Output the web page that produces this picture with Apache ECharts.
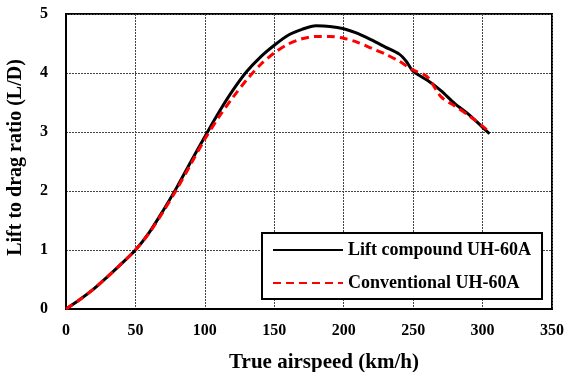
<!DOCTYPE html>
<html>
<head>
<meta charset="utf-8">
<script src="https://cdn.jsdelivr.net/npm/echarts@6/dist/echarts.min.js"></script>
<style>
  html, body { margin: 0; padding: 0; background: #fff; }
  #chart { width: 567px; height: 372px; }
</style>
</head>
<body>
<div id="chart"></div>
<script>
// true airspeed (km/h) and L/D
const compoundSpeed = [0, 10, 20, 30, 40, 50, 60, 70, 80, 90, 100, 110, 120, 130, 140, 150, 160, 170, 180, 190, 200, 210, 220, 230, 240, 245, 250, 260, 270, 280, 290, 300, 305]
const compoundLD = [0, 0.16, 0.34, 0.55, 0.77, 1.0, 1.3, 1.67, 2.07, 2.5, 2.92, 3.33, 3.7, 4.02, 4.27, 4.47, 4.64, 4.74, 4.8, 4.79, 4.75, 4.67, 4.56, 4.44, 4.32, 4.2, 4.03, 3.88, 3.7, 3.48, 3.3, 3.08, 2.97]

const conventionalSpeed = [0, 10, 20, 30, 40, 50, 60, 70, 80, 90, 100, 110, 120, 130, 140, 150, 160, 170, 180, 190, 200, 210, 220, 230, 240, 250, 260, 270, 280, 290, 300, 305]
const conventionalLD = [0, 0.16, 0.34, 0.55, 0.77, 1.0, 1.29, 1.65, 2.04, 2.46, 2.88, 3.25, 3.58, 3.88, 4.14, 4.34, 4.49, 4.58, 4.62, 4.62, 4.59, 4.52, 4.42, 4.32, 4.2, 4.05, 3.94, 3.6, 3.44, 3.28, 3.1, 3.0]

const seriesNames = ["Lift compound UH-60A", "Conventional UH-60A"]

const chart = echarts.init(document.getElementById("chart"))

const serif = "Liberation Serif"

chart.setOption({
  animation: false,
  grid: {
    left: 66,
    right: 15,
    top: 14,
    bottom: 63,
    outerBoundsMode: "none",
    show: true,
    borderColor: "#000",
    borderWidth: 2,
  },
  legend: {
    orient: "vertical",
    left: 262,
    top: 233,
    backgroundColor: "#fff",
    borderColor: "#000",
    borderWidth: 2,
    borderRadius: 0,
    padding: [8, 11, 7, 10],
    itemGap: 15,
    itemWidth: 70,
    itemHeight: 16,
    itemStyle: { opacity: 0 },
    textStyle: {
      fontFamily: serif,
      fontWeight: "bold",
      fontSize: 18,
      color: "#000",
    },
    data: seriesNames,
  },
  xAxis: {
    type: "value",
    min: 0,
    max: 350,
    interval: 50,
    name: "True airspeed (km/h)",
    nameLocation: "middle",
    nameGap: 43,
    nameTextStyle: { fontFamily: serif, fontWeight: "bold", fontSize: 21, color: "#000", padding: [0, 0, 0, 30] },
    axisLine: { show: true, lineStyle: { color: "#000", width: 2 } },
    axisTick: { show: false },
    axisLabel: { fontFamily: serif, fontWeight: "bold", fontSize: 16, color: "#000", margin: 14 },
    splitLine: { show: true, lineStyle: { color: "#444", type: [2, 1], width: 1 } },
  },
  yAxis: {
    type: "value",
    min: 0,
    max: 5,
    interval: 1,
    name: "Lift to drag ratio (L/D)",
    nameLocation: "middle",
    nameGap: 40,
    nameTextStyle: { fontFamily: serif, fontWeight: "bold", fontSize: 20, color: "#000", padding: [0, 0, 0, 8] },
    axisLine: { show: true, lineStyle: { color: "#000", width: 2 } },
    axisTick: { show: false },
    axisLabel: { fontFamily: serif, fontWeight: "bold", fontSize: 16, color: "#000", margin: 18 },
    splitLine: { show: true, lineStyle: { color: "#444", type: [2, 1], width: 1 } },
  },
  series: [
    {
      name: seriesNames[0],
      type: "line",
      data: compoundSpeed.map((s, i) => [s, compoundLD[i]]),
      showSymbol: false,
      symbol: "none",
      smooth: 0.3,
      lineStyle: { color: "#000", width: 3 },
      itemStyle: { color: "#000" },
      z: 3,
    },
    {
      name: seriesNames[1],
      type: "line",
      data: conventionalSpeed.map((s, i) => [s, conventionalLD[i]]),
      showSymbol: false,
      symbol: "none",
      smooth: 0.3,
      lineStyle: { color: "#ff0000", width: 3, type: [8, 5] },
      itemStyle: { color: "#ff0000" },
      z: 4,
    },
  ],
})
</script>
</body>
</html>
